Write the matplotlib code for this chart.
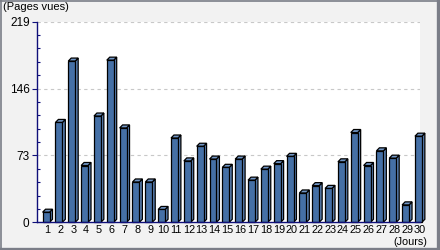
import matplotlib
matplotlib.use("Agg")
import matplotlib.pyplot as plt
from matplotlib.lines import Line2D
from matplotlib.ticker import FixedLocator, MultipleLocator

# daily page views
days = list(range(1, 31))
views = [11, 109, 176, 62, 116, 177, 103, 44, 44, 14,
         92, 67, 83, 69, 60, 69, 46, 58, 64, 72,
         32, 40, 37, 66, 98, 62, 78, 70, 19, 94]
yticks = [0, 73, 146, 219]
ylabel = "(Pages vues)"
xlabel = "(Jours)"

FRONT, SIDE, TOP = "#4570a6", "#5c83b6", "#7196c6"
NAVY, GRID, BG, FRAME = "#10107a", "#c8c8c8", "#f2f2f2", "#7b7e88"

plt.rcParams["font.family"] = ["Liberation Sans", "DejaVu Sans"]
fig = plt.figure(figsize=(4.4, 2.5), dpi=100, facecolor=BG)
ax = fig.add_axes([0.0834, 0.1108, 0.9545 - 0.0834, 0.9132 - 0.1108])
ax.set_facecolor("white")

ax.set_xlim(0.15, 29.75)
ax.set_ylim(0, 219)

w = 0.54            # front face width (data units)
dx, dy = 0.23, 3.3  # 3D depth offset
xs = [d - 0.12 for d in days]
ax.bar(xs, views, width=w, color=FRONT, edgecolor="black", linewidth=0.9,
       clip_on=False, zorder=3)
for x, v in zip(xs, views):
    r = x + w / 2
    l = x - w / 2
    ax.fill([r, r + dx, r + dx, r], [0, dy, v + dy, v], color=SIDE,
            edgecolor="black", linewidth=0.9, clip_on=False, zorder=2)
    ax.fill([l, l + dx, r + dx, r], [v, v + dy, v + dy, v], color=TOP,
            edgecolor="black", linewidth=0.9, clip_on=False, zorder=2)

for s in ("top", "right"):
    ax.spines[s].set_visible(False)
for s in ("left", "bottom"):
    ax.spines[s].set_color(NAVY)
    ax.spines[s].set_linewidth(1.0)
    ax.spines[s].set_zorder(4)

ax.yaxis.set_major_locator(FixedLocator(yticks))
ax.yaxis.set_minor_locator(MultipleLocator(14.6))
ax.set_yticklabels([str(t) for t in yticks], fontsize=8.5)
ax.tick_params(axis="y", which="major", direction="out", length=3.6, width=0.8,
               color=NAVY, pad=1.5)
ax.tick_params(axis="y", which="minor", direction="in", length=2, width=0.8,
               color=NAVY)
ax.set_xticks(days)
ax.set_xticklabels([str(d) for d in days], fontsize=7.8)
ax.tick_params(axis="x", length=0, pad=2)
for lab in ax.get_xticklabels():
    lab.set_clip_on(False)

for t in yticks[1:]:
    ax.axhline(t, color=GRID, linestyle=(0, (3, 3)), linewidth=0.8, zorder=1)

fig.text(3 / 440, 1 - 2 / 250, ylabel, ha="left", va="top", fontsize=8)
fig.text(427 / 440, 1 - 237 / 250, xlabel, ha="right", va="top", fontsize=7.8)

# figure frame: thin top/left, heavier right/bottom
frame = [([0, 1], [0.997, 0.997], 1.2), ([0.0015, 0.0015], [0, 1], 1.2),
         ([0.9965, 0.9965], [0, 1], 2.4), ([0, 1], [0.006, 0.006], 2.4)]
for xd, yd, lw in frame:
    fig.add_artist(Line2D(xd, yd, color=FRAME, linewidth=lw,
                          transform=fig.transFigure))

fig.savefig("out.png", dpi=100, facecolor=BG)
